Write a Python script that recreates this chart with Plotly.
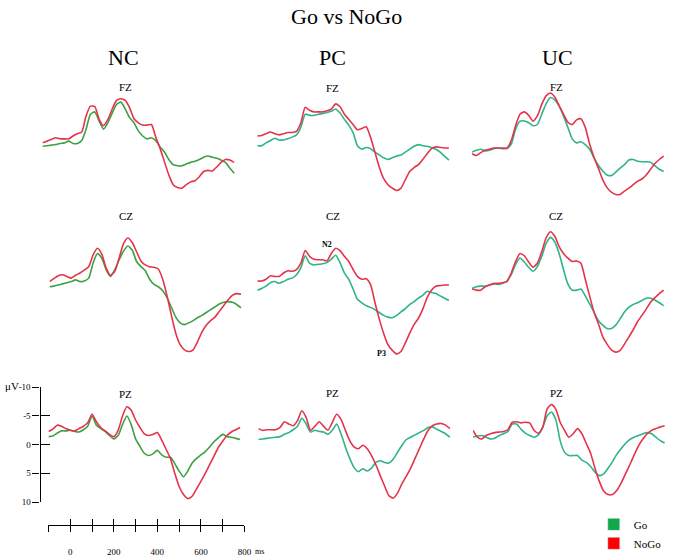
import plotly.graph_objects as go

W, H = 675, 558
FONT = "Liberation Serif"

# time axis (ms)
t = list(range(-100, 781, 20))

# ---- amplitudes (µV, negative up) ----
nc_fz_nogo = [-1.6, -1.9, -2.2, -2.5, -2.3, -2.3, -2.3, -2.8, -3.2, -3.5, -6.3, -8.0, -7.9, -5.7, -4.6,
              -5.7, -7.5, -9.0, -9.3, -9.0, -7.7, -5.8, -5.1, -4.7, -4.7, -4.8, -2.6, -0.6, 1.7, 4.0,
              5.7, 6.2, 6.3, 5.7, 5.2, 5.0, 4.3, 3.4, 3.2, 3.3, 2.6, 1.8, 1.3, 1.4, 1.8]
nc_fz_go = [-1.0, -1.1, -1.2, -1.3, -1.5, -1.6, -1.9, -1.5, -1.5, -2.0, -4.0, -6.6, -7.0, -5.4, -4.0,
            -5.1, -6.8, -8.3, -8.7, -7.5, -6.0, -5.1, -3.7, -2.8, -2.3, -2.5, -2.0, -0.9, 0.0, 1.3,
            2.2, 2.4, 2.4, 2.1, 1.8, 1.6, 1.3, 0.9, 0.7, 0.9, 1.1, 1.4, 1.8, 2.8, 3.7]

pc_fz_nogo = [-2.8, -2.9, -3.2, -3.5, -3.2, -3.0, -3.2, -3.4, -3.4, -3.6, -5.1, -7.8, -7.3, -7.0, -7.0,
              -7.0, -7.2, -7.5, -8.4, -7.9, -6.6, -5.7, -4.8, -3.9, -4.1, -4.4, -2.6, 0.0, 2.6, 4.6,
              5.7, 6.3, 6.7, 6.3, 4.8, 3.4, 2.7, 2.2, 1.3, 0.3, -0.6, -0.9, -0.8, -0.7, -0.7]
pc_fz_go = [-1.1, -1.1, -1.6, -2.0, -2.4, -2.1, -2.1, -2.3, -2.6, -3.0, -4.3, -6.6, -6.4, -6.4, -6.6,
            -6.7, -6.9, -7.1, -7.5, -6.8, -5.7, -4.7, -3.4, -1.1, -0.5, -0.8, -0.6, 0.0, 0.5, 1.0,
            1.3, 1.0, 0.7, 0.5, 0.0, -0.5, -1.0, -1.3, -1.1, -1.0, -0.8, -0.5, 0.0, 0.7, 1.4]

uc_fz_nogo = [0.3, 0.6, 0.1, -0.3, -0.5, -0.7, -0.7, -0.7, -0.7, -2.0, -4.6, -6.6, -7.0, -6.4, -5.4,
              -6.3, -8.3, -9.8, -10.3, -9.6, -8.1, -6.6, -5.2, -4.8, -5.6, -5.8, -4.3, -1.4, 0.9, 2.8,
              4.8, 6.2, 7.0, 7.4, 7.4, 6.8, 6.3, 5.7, 5.1, 4.7, 4.0, 3.0, 2.0, 1.3, 0.7]
uc_fz_go = [0.0, -0.3, -0.5, -0.2, -0.3, -0.6, -0.7, -0.6, -0.6, -1.4, -4.0, -5.4, -5.4, -5.1, -4.6,
            -4.8, -6.6, -8.4, -9.5, -9.1, -8.0, -6.3, -4.3, -2.3, -1.6, -1.8, -1.3, -0.5, 1.0, 2.3,
            3.3, 4.0, 4.1, 3.5, 2.8, 2.2, 1.4, 1.3, 1.6, 1.7, 1.7, 1.8, 2.4, 3.0, 3.4]

nc_cz_nogo = [-2.2, -2.7, -3.2, -3.4, -3.1, -2.8, -3.3, -3.7, -4.2, -4.8, -6.8, -8.0, -7.0, -4.6, -3.3,
              -4.0, -6.3, -8.8, -9.8, -9.0, -7.4, -5.8, -5.1, -4.8, -4.7, -4.4, -2.6, 0.3, 3.7, 6.8,
              8.8, 9.7, 10.0, 9.7, 8.3, 6.6, 5.4, 4.6, 4.0, 3.0, 2.0, 1.0, 0.2, -0.1, 0.0]
nc_cz_go = [-1.3, -1.4, -1.6, -1.8, -2.0, -2.2, -2.5, -2.2, -2.3, -2.8, -5.4, -7.1, -6.3, -4.3, -3.1,
            -4.3, -6.0, -7.5, -8.4, -7.7, -5.7, -4.8, -4.1, -2.6, -1.7, -1.3, -0.6, 0.6, 2.3, 4.0,
            5.0, 5.3, 5.0, 4.6, 4.1, 3.7, 3.2, 2.7, 2.2, 1.7, 1.4, 1.3, 1.4, 1.8, 2.4]

pc_cz_nogo = [-2.3, -2.3, -2.6, -3.2, -3.1, -3.1, -3.7, -4.1, -4.0, -4.3, -5.4, -7.6, -6.6, -6.1, -6.0,
              -6.0, -5.8, -7.1, -8.0, -7.6, -6.6, -5.7, -4.3, -3.1, -2.6, -2.7, -1.7, 1.4, 4.3, 6.8,
              8.8, 9.8, 10.4, 10.0, 8.5, 6.8, 5.3, 4.2, 2.6, 0.6, -0.7, -1.4, -1.5, -1.6, -1.6]
pc_cz_go = [-0.7, -1.0, -1.4, -2.0, -2.2, -1.9, -2.2, -2.6, -2.8, -3.4, -4.6, -6.7, -5.4, -5.1, -5.2,
            -5.3, -5.5, -6.1, -6.8, -5.5, -3.7, -2.6, -0.9, 0.9, 1.5, 2.0, 2.3, 2.7, 3.2, 3.7,
            4.0, 4.1, 3.7, 3.1, 2.5, 1.8, 1.3, 0.7, 0.2, -0.5, -0.3, -0.1, 0.3, 0.7, 1.1]

uc_cz_nogo = [-0.9, -0.7, -0.7, -1.3, -1.6, -1.8, -1.9, -2.0, -2.2, -3.7, -5.7, -7.1, -6.7, -5.6, -4.7,
              -5.4, -7.4, -9.8, -10.9, -10.1, -8.3, -7.1, -6.3, -5.7, -5.8, -5.4, -2.6, 0.3, 3.1, 5.1,
              7.4, 8.7, 9.7, 10.1, 9.8, 8.7, 7.5, 6.2, 4.8, 3.7, 2.6, 1.4, 0.6, -0.1, -0.7]
uc_cz_go = [-1.0, -1.3, -1.4, -1.4, -1.6, -1.9, -1.7, -1.9, -2.3, -3.4, -5.2, -6.3, -5.6, -4.7, -4.0,
            -4.8, -6.6, -8.8, -9.9, -9.1, -7.1, -4.3, -1.8, -0.7, -0.7, -0.9, 0.3, 1.7, 3.1, 4.6,
            5.4, 6.0, 6.0, 5.4, 4.3, 3.1, 2.3, 1.8, 1.5, 1.1, 0.7, 0.7, 1.0, 1.5, 2.0]

nc_pz_nogo = [-2.3, -2.7, -3.4, -3.2, -2.8, -2.5, -2.4, -2.8, -3.2, -3.8, -5.3, -4.0, -3.0, -2.4, -1.8,
              -1.4, -2.5, -5.0, -6.6, -6.0, -4.3, -3.0, -1.9, -1.6, -1.8, -2.1, -0.8, 0.8, 2.4, 5.0,
              7.3, 8.7, 9.4, 9.0, 7.7, 6.4, 5.0, 3.5, 2.0, 0.5, -0.6, -1.6, -2.2, -2.6, -3.0]
nc_pz_go = [-1.4, -1.5, -2.0, -2.4, -2.4, -2.5, -2.3, -2.2, -2.6, -3.2, -5.0, -3.4, -2.8, -2.3, -1.6,
            -1.0, -1.6, -3.5, -5.0, -3.5, -1.0, 0.3, 1.5, 1.9, 1.6, 1.0, 1.8, 2.2, 2.2, 3.3,
            4.6, 5.6, 4.6, 3.2, 2.4, 1.8, 1.2, 0.4, -0.5, -1.2, -1.8, -1.4, -1.3, -1.1, -0.9]

pc_pz_nogo = [-2.8, -2.5, -2.6, -2.6, -2.6, -3.0, -4.0, -3.6, -3.3, -4.2, -5.9, -4.7, -2.5, -3.2, -4.0,
              -3.2, -2.5, -3.9, -5.3, -4.4, -2.5, -0.7, 0.4, 0.7, 0.1, 0.7, 1.9, 3.5, 5.4, 7.2,
              8.9, 9.3, 8.4, 6.8, 5.5, 4.1, 2.4, 0.7, -1.0, -2.5, -3.3, -3.6, -3.7, -3.4, -2.8]
pc_pz_go = [-0.9, -1.0, -1.1, -1.2, -1.3, -1.4, -1.8, -2.1, -2.6, -3.2, -4.6, -3.6, -2.2, -2.5, -2.3,
            -2.2, -1.8, -2.5, -3.6, -1.9, 0.4, 2.4, 4.0, 4.7, 4.2, 4.6, 4.1, 3.1, 2.8, 3.1,
            3.2, 2.5, 1.3, 0.1, -0.9, -1.3, -1.7, -2.1, -2.5, -3.0, -3.1, -2.7, -2.3, -1.9, -1.3]

uc_pz_nogo = [-2.5, -1.3, -1.0, -1.6, -1.9, -2.1, -2.2, -2.3, -2.6, -3.9, -4.0, -3.8, -3.9, -3.8, -2.5,
              -2.0, -3.0, -6.2, -7.0, -6.2, -3.9, -2.5, -1.3, -1.9, -2.8, -1.9, -0.2, 1.5, 4.1, 6.4,
              8.1, 8.7, 8.7, 8.0, 6.7, 5.1, 3.5, 1.8, 0.2, -1.0, -1.9, -2.5, -2.8, -3.1, -3.3]
uc_pz_go = [-1.3, -1.5, -1.6, -1.3, -1.0, -1.1, -1.6, -1.9, -2.3, -3.6, -3.6, -2.7, -2.0, -1.6, -1.3,
            -1.7, -3.0, -5.0, -5.7, -4.4, -0.7, 1.3, 1.9, 1.9, 1.9, 2.7, 3.1, 3.8, 4.8, 5.4,
            5.1, 4.1, 3.0, 1.7, 0.7, -0.2, -0.9, -1.3, -1.6, -1.9, -2.1, -1.9, -1.3, -0.7, -0.3]

groups = ["NC", "PC", "UC"]
electrodes = ["FZ", "CZ", "PZ"]
legend_names = ["Go", "NoGo"]
y_ticks = [-10, -5, 0, 5, 10]
y_ticktext = ["-10", "-5", "0", "5", "10"]
x_ticks = list(range(-100, 801, 100))
x_ticktext = ["", "0", "", "200", "", "400", "", "600", "", "800"]

data = {
    ("FZ", "NC"): (nc_fz_go, nc_fz_nogo), ("FZ", "PC"): (pc_fz_go, pc_fz_nogo), ("FZ", "UC"): (uc_fz_go, uc_fz_nogo),
    ("CZ", "NC"): (nc_cz_go, nc_cz_nogo), ("CZ", "PC"): (pc_cz_go, pc_cz_nogo), ("CZ", "UC"): (uc_cz_go, uc_cz_nogo),
    ("PZ", "NC"): (nc_pz_go, nc_pz_nogo), ("PZ", "PC"): (pc_pz_go, pc_pz_nogo), ("PZ", "UC"): (uc_pz_go, uc_pz_nogo),
}

# ---- layout geometry (pixels) ----
PX_MS = 0.22      # px per ms
PX_UV = 5.85      # px per µV
T_MIN, T_MAX = -100, 790
x0_px = {("FZ", "NC"): 43, ("CZ", "NC"): 50, ("PZ", "NC"): 50,
         ("FZ", "PC"): 260, ("CZ", "PC"): 260, ("PZ", "PC"): 261,
         ("FZ", "UC"): 477, ("CZ", "UC"): 477, ("PZ", "UC"): 478}
row_base = {"FZ": 150, "CZ": 295, "PZ": 448.5}
row_half = {"FZ": 12, "CZ": 12, "PZ": 10}
label_pos = {("FZ", "NC"): (127, 84), ("FZ", "PC"): (336, 85), ("FZ", "UC"): (562, 84),
             ("CZ", "NC"): (127, 215), ("CZ", "PC"): (336, 215), ("CZ", "UC"): (562, 215),
             ("PZ", "NC"): (127, 397), ("PZ", "PC"): (336, 396), ("PZ", "UC"): (562, 396)}

GO_GREEN = {"NC": "#3f9f45", "PC": "#2fb487", "UC": "#2fb487"}
NOGO_RED = "#e5334a"
LEG_GREEN = "#12a84a"
LEG_RED = "#ff0000"

def px(x):
    return min(1.0, max(0.0, x / W))

def py(y):
    return min(1.0, max(0.0, 1 - y / H))

fig = go.Figure()
layout = dict(width=W, height=H, margin=dict(l=0, r=0, t=0, b=0),
              paper_bgcolor="white", plot_bgcolor="rgba(0,0,0,0)",
              showlegend=True, font=dict(family=FONT, color="black"))
annotations = []

i = 0
for e in electrodes:
    for g in groups:
        i += 1
        key = (e, g)
        x0 = x0_px[key]
        b = row_base[e]
        R = row_half[e]
        xa = dict(domain=[px(x0), px(x0 + (T_MAX - T_MIN) * PX_MS)], range=[T_MIN, T_MAX], visible=False,
                  anchor="y%d" % i)
        ya = dict(domain=[py(b + R * PX_UV), py(b - R * PX_UV)], range=[R, -R], visible=False,
                  anchor="x%d" % i)
        layout["xaxis%d" % i] = xa
        layout["yaxis%d" % i] = ya
        go_vals, nogo_vals = data[key]
        fig.add_trace(go.Scatter(x=t, y=go_vals, mode="lines", line=dict(color=GO_GREEN[g], width=1.6, shape="spline", smoothing=0.6),
                                 xaxis="x%d" % i, yaxis="y%d" % i, showlegend=False, hoverinfo="skip"))
        fig.add_trace(go.Scatter(x=t, y=nogo_vals, mode="lines", line=dict(color=NOGO_RED, width=1.6, shape="spline", smoothing=0.6),
                                 xaxis="x%d" % i, yaxis="y%d" % i, showlegend=False, hoverinfo="skip"))
        lx, ly = label_pos[key]
        annotations.append(dict(text=e, x=px(lx), y=py(ly), xref="paper", yref="paper", showarrow=False,
                                font=dict(family=FONT, size=11), xanchor="center", yanchor="middle"))

# scale axes on the NC/PZ panel
axis_common = dict(showgrid=False, zeroline=False, linecolor="black", tickcolor="black", tickwidth=1.3)
layout["xaxis7"].update(visible=True, anchor="free", position=py(530), showline=True, linewidth=1.3,
                        range=[-100, 800], ticks="outside", ticklen=6, tickvals=x_ticks, ticktext=x_ticktext,
                        tickfont=dict(family=FONT, size=9), ticklabelstandoff=12, **axis_common)
layout["xaxis7"]["domain"] = [px(49), px(49 + 900 * PX_MS)]
layout["yaxis7"].update(visible=True, anchor="free", position=px(40), showline=True, linewidth=1.3,
                        ticks="outside", ticklen=7, tickvals=y_ticks, ticktext=y_ticktext,
                        tickfont=dict(family=FONT, size=9), **axis_common)
layout["yaxis7"]["domain"] = [py(507), py(390)]
layout["xaxis10"] = dict(overlaying="x7", anchor="free", position=py(530), range=[-100, 800],
                         ticks="inside", ticklen=6, tickvals=x_ticks, showticklabels=False, showline=False, **axis_common)
layout["yaxis10"] = dict(overlaying="y7", anchor="free", position=px(40), range=[10, -10],
                         ticks="inside", ticklen=9, tickvals=y_ticks, showticklabels=False, showline=False, **axis_common)
fig.add_trace(go.Scatter(x=[None], y=[None], xaxis="x10", yaxis="y10", showlegend=False, hoverinfo="skip"))

# legend entries
fig.add_trace(go.Bar(x=[None], y=[None], name=legend_names[0], marker_color=LEG_GREEN, xaxis="x1", yaxis="y1"))
fig.add_trace(go.Bar(x=[None], y=[None], name=legend_names[1], marker_color=LEG_RED, xaxis="x1", yaxis="y1"))
layout["legend"] = dict(x=px(600), y=py(515), xanchor="left", yanchor="top", bgcolor="rgba(0,0,0,0)",
                        font=dict(family=FONT, size=11), itemwidth=30, tracegroupgap=0)

# titles
annotations.append(dict(text="Go vs NoGo", x=px(350), y=py(12), xref="paper", yref="paper", showarrow=False,
                        font=dict(family=FONT, size=22), xanchor="center", yanchor="middle"))
for g, hx in zip(groups, [125, 336, 563]):
    annotations.append(dict(text=g, x=px(hx), y=py(54), xref="paper", yref="paper", showarrow=False,
                            font=dict(family=FONT, size=22), xanchor="center", yanchor="middle"))
annotations.append(dict(text="<b>N2</b>", x=px(330), y=py(244), xref="paper", yref="paper", showarrow=False,
                        font=dict(family=FONT, size=8), xanchor="center", yanchor="middle"))
annotations.append(dict(text="<b>P3</b>", x=px(386), y=py(356), xref="paper", yref="paper", showarrow=False,
                        font=dict(family=FONT, size=8), xanchor="center", yanchor="middle"))
annotations.append(dict(text="μV", x=px(3), y=py(389), xref="paper", yref="paper", showarrow=False,
                        font=dict(family=FONT, size=11), xanchor="left", yanchor="middle"))
annotations.append(dict(text="ms", x=px(256), y=py(557), xref="paper", yref="paper", showarrow=False,
                        font=dict(family=FONT, size=8), xanchor="left", yanchor="middle"))
layout["annotations"] = annotations

fig.update_layout(**layout)
fig.write_html("out.html", config={"displayModeBar": False},
               post_script="document.body.style.margin='0';document.body.style.overflow='hidden';")
